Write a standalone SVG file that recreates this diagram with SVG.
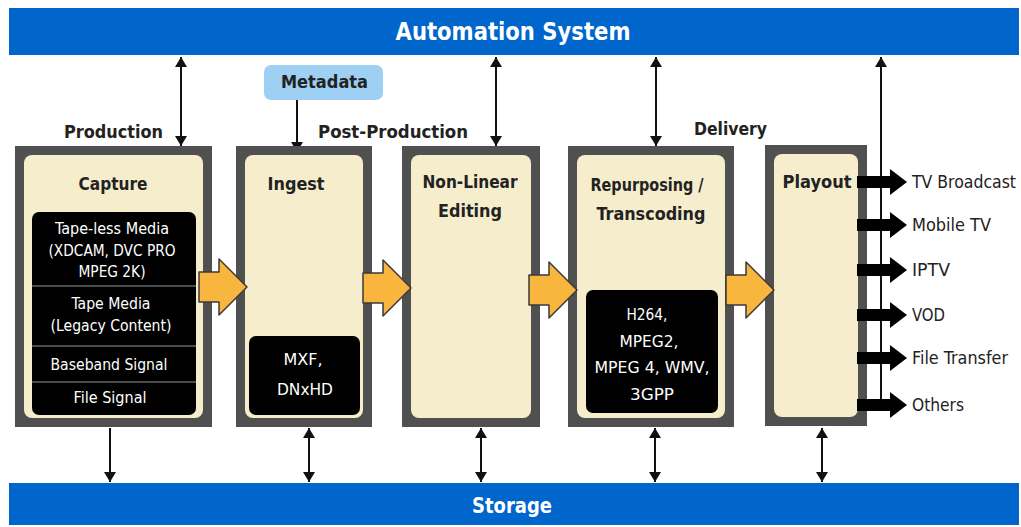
<svg xmlns="http://www.w3.org/2000/svg" width="1021" height="527" viewBox="0 0 1021 527">
<style>
.bar{fill:#0066CC}
.bart{fill:#fff;font-family:"Liberation Sans Narrow","DejaVu Sans Condensed","Liberation Sans",sans-serif;font-weight:bold;text-anchor:middle}
.lbl{fill:#222;font-family:"Liberation Sans Narrow","DejaVu Sans Condensed","Liberation Sans",sans-serif;font-weight:bold;font-size:17px}
.ttl{fill:#222;font-family:"Liberation Sans Narrow","DejaVu Sans Condensed","Liberation Sans",sans-serif;font-weight:bold;font-size:18px;text-anchor:middle}
.wt{fill:#fff;font-family:"Liberation Sans Narrow","DejaVu Sans Condensed","Liberation Sans",sans-serif;font-size:15px;text-anchor:middle}
.out{fill:#222;font-family:"Liberation Sans Narrow","DejaVu Sans Condensed","Liberation Sans",sans-serif;font-size:17px}
.frame{fill:#505050}
.cream{fill:#F6EDCC}
.blk{fill:#000}
.sep{stroke:#666;stroke-width:1.5}
.ln{stroke:#111;stroke-width:2;fill:none}
.orange{fill:#F9B63F;stroke:#3a3a3a;stroke-width:1.5;stroke-linejoin:round}
</style>
<defs>
<marker id="ah" viewBox="0 0 10 12" refX="10" refY="6" markerWidth="10" markerHeight="12" markerUnits="userSpaceOnUse" orient="auto-start-reverse">
<path d="M0,0 L10,6 L0,12 Z" fill="#111"/>
</marker>
<path id="oarrow" d="M0,-15 L20,-15 L20,-28 L48,0 L20,28 L20,15 L0,15 Z"/>
<path id="barrow" d="M0,-6 L33,-6 L33,-13 L50,0 L33,13 L33,6 L0,6 Z"/>
</defs>

<g id="automation">
<rect class="bar" x="9" y="8" width="1010" height="47"/>
<text class="bart" x="513" y="40" font-size="24" textLength="235" lengthAdjust="spacingAndGlyphs">Automation System</text>
</g>

<g id="storage">
<rect class="bar" x="9" y="483" width="1010" height="42"/>
<text class="bart" x="512" y="513" font-size="22" textLength="80" lengthAdjust="spacingAndGlyphs">Storage</text>
</g>

<g id="metadata">
<rect x="264" y="65" width="119" height="35" rx="7" fill="#9DD0F3"/>
<text class="lbl" x="281" y="88" textLength="87" lengthAdjust="spacingAndGlyphs">Metadata</text>
</g>

<g id="stage-labels">
<text class="lbl" x="64" y="138" textLength="99" lengthAdjust="spacingAndGlyphs">Production</text>
<text class="lbl" x="318" y="138" textLength="150" lengthAdjust="spacingAndGlyphs">Post-Production</text>
<text class="lbl" x="694" y="135" textLength="73" lengthAdjust="spacingAndGlyphs">Delivery</text>
</g>

<g id="connectors">
<line class="ln" x1="181" y1="57" x2="181" y2="146" marker-start="url(#ah)" marker-end="url(#ah)"/>
<line class="ln" x1="496" y1="57" x2="496" y2="146" marker-start="url(#ah)" marker-end="url(#ah)"/>
<line class="ln" x1="656" y1="57" x2="656" y2="146" marker-start="url(#ah)" marker-end="url(#ah)"/>
<line class="ln" x1="297" y1="100" x2="297" y2="152" marker-end="url(#ah)"/>
<line class="ln" x1="881" y1="57" x2="881" y2="405" marker-start="url(#ah)"/>
<line class="ln" x1="110" y1="428" x2="110" y2="482" marker-end="url(#ah)"/>
<line class="ln" x1="309" y1="428" x2="309" y2="482" marker-start="url(#ah)" marker-end="url(#ah)"/>
<line class="ln" x1="481" y1="428" x2="481" y2="482" marker-start="url(#ah)" marker-end="url(#ah)"/>
<line class="ln" x1="655" y1="428" x2="655" y2="482" marker-start="url(#ah)" marker-end="url(#ah)"/>
<line class="ln" x1="822" y1="428" x2="822" y2="482" marker-start="url(#ah)" marker-end="url(#ah)"/>
</g>

<g id="capture">
<rect class="frame" x="15" y="146" width="197" height="281"/>
<rect class="cream" x="24" y="155" width="179" height="263" rx="8"/>
<text class="ttl" x="113" y="190" textLength="69" lengthAdjust="spacingAndGlyphs">Capture</text>
<rect class="blk" x="32" y="212" width="164" height="203" rx="7"/>
<line class="sep" x1="32" y1="286" x2="196" y2="286"/>
<line class="sep" x1="32" y1="346" x2="196" y2="346"/>
<line class="sep" x1="32" y1="382" x2="196" y2="382"/>
<text class="wt" x="112" y="234" textLength="114" lengthAdjust="spacingAndGlyphs">Tape-less Media</text>
<text class="wt" x="112" y="256" textLength="127" lengthAdjust="spacingAndGlyphs">(XDCAM, DVC PRO</text>
<text class="wt" x="112" y="277" textLength="67" lengthAdjust="spacingAndGlyphs">MPEG 2K)</text>
<text class="wt" x="111" y="309" textLength="79" lengthAdjust="spacingAndGlyphs">Tape Media</text>
<text class="wt" x="111" y="331" textLength="121" lengthAdjust="spacingAndGlyphs">(Legacy Content)</text>
<text class="wt" x="109" y="370" textLength="117" lengthAdjust="spacingAndGlyphs">Baseband Signal</text>
<text class="wt" x="110" y="403" textLength="73" lengthAdjust="spacingAndGlyphs">File Signal</text>
</g>

<g id="ingest">
<rect class="frame" x="236" y="146" width="136" height="281"/>
<rect class="cream" x="245" y="155" width="118" height="263" rx="8"/>
<text class="ttl" x="296" y="190" textLength="57" lengthAdjust="spacingAndGlyphs">Ingest</text>
<rect class="blk" x="249" y="336" width="111" height="79" rx="7"/>
<text class="wt" x="303" y="365" textLength="39" lengthAdjust="spacingAndGlyphs">MXF,</text>
<text class="wt" x="305" y="395" textLength="56" lengthAdjust="spacingAndGlyphs">DNxHD</text>
</g>

<g id="nle">
<rect class="frame" x="402" y="146" width="138" height="281"/>
<rect class="cream" x="411" y="155" width="120" height="263" rx="8"/>
<text class="ttl" x="470" y="188" textLength="95" lengthAdjust="spacingAndGlyphs">Non-Linear</text>
<text class="ttl" x="470" y="217" textLength="64" lengthAdjust="spacingAndGlyphs">Editing</text>
</g>

<g id="repurposing">
<rect class="frame" x="568" y="146" width="166" height="281"/>
<rect class="cream" x="577" y="155" width="148" height="263" rx="8"/>
<text class="ttl" x="647" y="191" textLength="113" lengthAdjust="spacingAndGlyphs">Repurposing /</text>
<text class="ttl" x="651" y="220" textLength="109" lengthAdjust="spacingAndGlyphs">Transcoding</text>
<rect class="blk" x="586" y="290" width="132" height="123" rx="7"/>
<text class="wt" x="647" y="320" textLength="41" lengthAdjust="spacingAndGlyphs">H264,</text>
<text class="wt" x="649" y="347" textLength="59" lengthAdjust="spacingAndGlyphs">MPEG2,</text>
<text class="wt" x="652" y="373" textLength="115" lengthAdjust="spacingAndGlyphs">MPEG 4, WMV,</text>
<text class="wt" x="652" y="400" textLength="44" lengthAdjust="spacingAndGlyphs">3GPP</text>
</g>

<g id="playout">
<rect class="frame" x="765" y="145" width="102" height="281"/>
<rect class="cream" x="774" y="154" width="84" height="263" rx="8"/>
<text class="ttl" x="817" y="188" textLength="69" lengthAdjust="spacingAndGlyphs">Playout</text>
</g>

<g id="flow-arrows">
<use href="#oarrow" class="orange" x="199" y="287"/>
<use href="#oarrow" class="orange" x="363" y="288"/>
<use href="#oarrow" class="orange" x="529" y="290"/>
<use href="#oarrow" class="orange" x="726" y="290"/>
</g>

<g id="outputs">
<use href="#barrow" fill="#000" x="857" y="182"/>
<use href="#barrow" fill="#000" x="857" y="225"/>
<use href="#barrow" fill="#000" x="857" y="270"/>
<use href="#barrow" fill="#000" x="857" y="315"/>
<use href="#barrow" fill="#000" x="857" y="358"/>
<use href="#barrow" fill="#000" x="857" y="405"/>
<text class="out" x="912" y="188" textLength="104" lengthAdjust="spacingAndGlyphs">TV Broadcast</text>
<text class="out" x="912" y="231" textLength="79" lengthAdjust="spacingAndGlyphs">Mobile TV</text>
<text class="out" x="912" y="276" textLength="38" lengthAdjust="spacingAndGlyphs">IPTV</text>
<text class="out" x="912" y="321" textLength="33" lengthAdjust="spacingAndGlyphs">VOD</text>
<text class="out" x="912" y="364" textLength="96" lengthAdjust="spacingAndGlyphs">File Transfer</text>
<text class="out" x="912" y="411" textLength="52" lengthAdjust="spacingAndGlyphs">Others</text>
</g>
</svg>
